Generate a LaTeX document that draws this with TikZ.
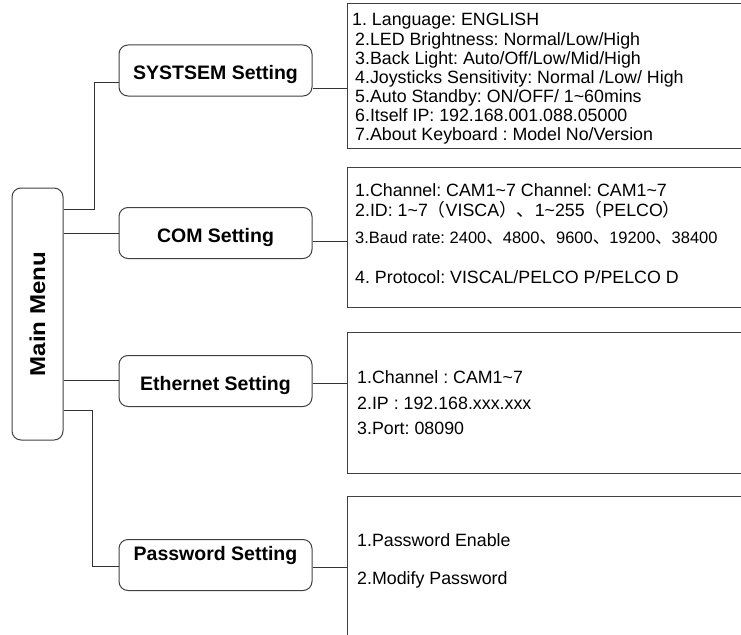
\documentclass[tikz,border=0pt]{standalone}
\usepackage{fontspec}
\setmainfont{Liberation Sans}
\newfontfamily\cjk{Noto Sans CJK SC}
\frenchspacing
\begin{document}
\frenchspacing
\begin{tikzpicture}[x=1pt,y=-1pt,
  wire/.style={line width=1pt, draw=black!80},
  mainbox/.style={draw=black!75, line width=1pt, rounded corners=9pt, minimum width=51pt, minimum height=252pt, inner sep=0pt},
  setbox/.style={draw=black!75, line width=1pt, rounded corners=9pt, minimum width=193pt, minimum height=51pt, inner sep=0pt, font=\fontsize{19.5}{22}\selectfont\bfseries, text height=18pt, text depth=0pt},
  listbox/.style={draw=black!75, line width=1pt, inner sep=0pt, minimum width=413pt},
  item/.style={anchor=base west, inner sep=0pt, font=\fontsize{17.8}{20}\selectfont},
]
\useasboundingbox (0,0) rectangle (741,634);
\clip (0,0) rectangle (741,634);

% main menu
\node[mainbox] (main) at (37.5,314) {\rotatebox{90}{\scalebox{1.12}[1]{\fontsize{21.5}{24}\selectfont\bfseries Main Menu}}};

% setting boxes
\node[setbox] (sys) at (215.5,70.5) {SYSTSEM Setting};
\node[setbox] (com) at (215.5,233) {COM Setting};
\node[setbox] (eth) at (215.5,381) {Ethernet Setting};
\node[setbox, text height=14pt, text depth=24pt] (pw) at (215.5,565) {Password Setting};

% list boxes
\node[listbox, minimum height=144pt] (sysl) at (553.5,76) {};
\node[listbox, minimum height=140pt] (coml) at (553.5,237) {};
\node[listbox, minimum height=141pt] (ethl) at (553.5,402.5) {};
\node[listbox, minimum height=164pt] (pwl) at (553.5,578) {};

% system items
\node[item] (s1) at (352,25.3) {1. Language: ENGLISH};
\node[item] (s2) at (355,45.3) {2.LED Brightness: Normal/Low/High};
\node[item] (s3) at (355,64.3) {3.Back Light: Auto/Off/Low/Mid/High};
\node[item] (s4) at (355,83.3) {4.Joysticks Sensitivity: Normal /Low/ High};
\node[item] (s5) at (355,102.3) {5.Auto Standby: ON/OFF/ 1\textasciitilde60mins};
\node[item] (s6) at (355,121.3) {6.Itself IP: 192.168.001.088.05000};
\node[item] (s7) at (355,140.3) {7.About Keyboard : Model No/Version};

% com items
\node[item] (c1) at (355,196.3) {1.Channel: CAM1\textasciitilde7 Channel: CAM1\textasciitilde7};
\node[item] (c2) at (355,216.3) {2.ID: 1\textasciitilde7{\cjk （}VISCA{\cjk ）、}1\textasciitilde255{\cjk （}PELCO{\cjk ）}};
\node[item, font=\fontsize{16.5}{19}\selectfont] (c3) at (355,243) {3.Baud rate: 2400{\cjk 、}4800{\cjk 、}9600{\cjk 、}19200{\cjk 、}38400};
\node[item] (c4) at (355,283.3) {4. Protocol: VISCAL/PELCO P/PELCO D};

% ethernet items
\node[item] (e1) at (357,383.3) {1.Channel : CAM1\textasciitilde7};
\node[item] (e2) at (357,409.3) {2.IP : 192.168.xxx.xxx};
\node[item] (e3) at (357,434.3) {3.Port: 08090};

% password items
\node[item] (p1) at (357,546.3) {1.Password Enable};
\node[item] (p2) at (357,584.3) {2.Modify Password};

% connectors
\draw[wire] (main.east |- 0,209) -- (94,209) |- (sys.west |- 0,82);
\draw[wire] (main.east |- 0,233) -- (com.west |- 0,233);
\draw[wire] (main.east |- 0,380) -- (eth.west |- 0,380);
\draw[wire] (main.east |- 0,410) -- (92,410) |- (pw.west |- 0,566);
\draw[wire] (sys.east |- 0,88) -- (sysl.west |- 0,88);
\draw[wire] (com.east |- 0,241) -- (coml.west |- 0,241);
\draw[wire] (eth.east |- 0,383) -- (ethl.west |- 0,383);
\draw[wire] (pw.east |- 0,567) -- (pwl.west |- 0,567);
\end{tikzpicture}
\end{document}
